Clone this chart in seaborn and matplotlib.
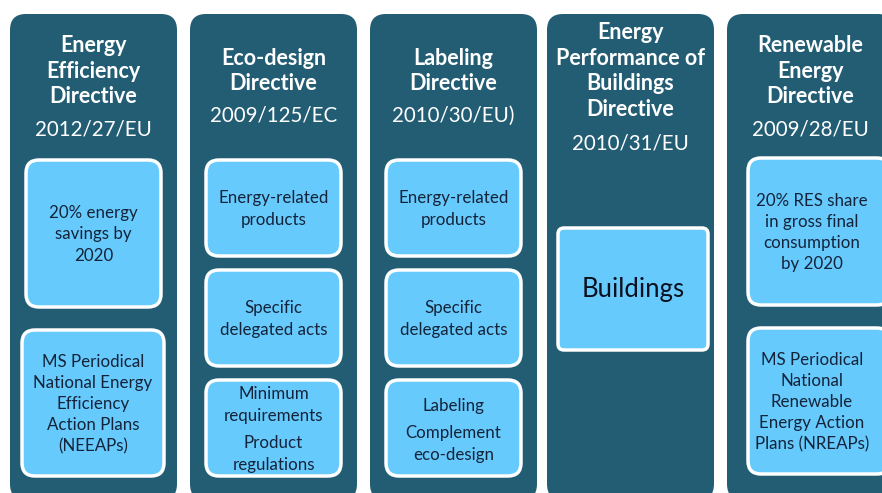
import matplotlib.pyplot as plt
import seaborn as sns
from matplotlib.patches import FancyBboxPatch

# ---------------------------------------------
# Diagram content
# ---------------------------------------------
titles = [
    "Energy\nEfficiency\nDirective",
    "Eco-design\nDirective",
    "Labeling\nDirective",
    "Energy\nPerformance of\nBuildings\nDirective",
    "Renewable\nEnergy\nDirective",
]
codes = ["2012/27/EU", "2009/125/EC", "2010/30/EU)", "2010/31/EU", "2009/28/EU"]

# texts inside the light boxes, one list per column
box_texts = [
    ["20% energy\nsavings by\n2020",
     "MS Periodical\nNational Energy\nEfficiency\nAction Plans\n(NEEAPs)"],
    ["Energy-related\nproducts", "Specific\ndelegated acts",
     ["Minimum\nrequirements", "Product\nregulations"]],
    ["Energy-related\nproducts", "Specific\ndelegated acts",
     ["Labeling", "Complement\neco-design"]],
    ["Buildings"],
    ["20% RES share\nin gross final\nconsumption\nby 2020",
     "MS Periodical\nNational\nRenewable\nEnergy Action\nPlans (NREAPs)"],
]

# ---------------------------------------------
# Layout (pixels)
# ---------------------------------------------
col_x = [10, 190, 370, 547, 727]
col_w = 167
col_top, col_bottom = 14, 500
title_y = [71, 71, 71, 71, 71]
code_y = [130, 116, 116, 143, 130]

# (x0, y0, x1, y1) for each light box
box_geo = [
    [(26, 160, 161, 307), (22, 330, 164, 476)],
    [(206, 160, 341, 256), (206, 270, 341, 366), (206, 380, 341, 476)],
    [(386, 160, 521, 256), (386, 270, 521, 366), (386, 380, 521, 476)],
    [(558, 228, 708, 350)],
    [(748, 158, 890, 305), (748, 328, 890, 474)],
]
split_y = [[405, 454], [406, 444]]

dark = "#235D74"
light = "#66CAFC"
ink = "#14233A"

sns.set_theme(style="white")
plt.rcParams["font.family"] = ["Lato", "DejaVu Sans"]

fig = plt.figure(figsize=(8.82, 4.93), dpi=100)
ax = fig.add_axes([0, 0, 1, 1])
ax.set_xlim(0, 882)
ax.set_ylim(493, 0)
ax.axis("off")

for i, title in enumerate(titles):
    x0 = col_x[i]
    ax.add_patch(FancyBboxPatch((x0, col_top), col_w, col_bottom - col_top,
                                boxstyle="round,pad=0,rounding_size=16",
                                fc=dark, ec="none"))
    cx = x0 + col_w / 2
    ax.text(cx, title_y[i], title, ha="center", va="center", color="white",
            fontsize=15.5, fontweight="bold", linespacing=1.27)
    ax.text(cx, code_y[i], codes[i], ha="center", va="center", color="white",
            fontsize=14.8)

    for j, (bx0, by0, bx1, by1) in enumerate(box_geo[i]):
        rs = 6 if i == 3 else 13
        ax.add_patch(FancyBboxPatch((bx0, by0), bx1 - bx0, by1 - by0,
                                    boxstyle=f"round,pad=0,rounding_size={rs}",
                                    fc=light, ec="white", lw=2.5))
        bcx = (bx0 + min(bx1, 876)) / 2 if i == 4 else (bx0 + bx1) / 2
        txt = box_texts[i][j]
        if isinstance(txt, list):
            for t, ty in zip(txt, split_y[i - 1]):
                ax.text(bcx, ty, t, ha="center", va="center", color=ink,
                        fontsize=12.2, linespacing=1.4)
        elif i == 3:
            ax.text(bcx, (by0 + by1) / 2, txt, ha="center", va="center",
                    color="#0A1020", fontsize=18.5)
        else:
            ax.text(bcx, (by0 + by1) / 2 + 1, txt, ha="center", va="center",
                    color=ink, fontsize=12.2, linespacing=1.4)

fig.savefig("out.png", dpi=100, facecolor="white")
